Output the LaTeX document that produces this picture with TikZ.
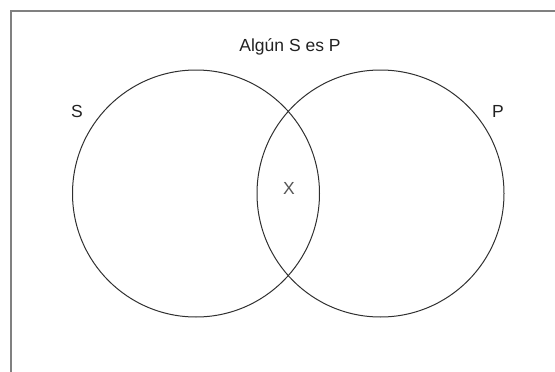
\documentclass[tikz,border=0pt]{standalone}
\usepackage{fontspec}
\setmainfont{Liberation Sans}
\definecolor{frame}{HTML}{808080}
\definecolor{ink}{HTML}{303030}
\definecolor{txt}{HTML}{222222}
\definecolor{xgray}{HTML}{555555}
\begin{document}
\begin{tikzpicture}[x=1pt,y=-1pt,
  setcircle/.style={circle, draw=ink, line width=1pt, minimum size=247pt, inner sep=0pt},
  lbl/.style={text=txt, font=\fontsize{17.5}{20}\selectfont, inner sep=0pt}]
\useasboundingbox (0,0) rectangle (555,372);
\draw[frame, line width=2pt] (10.5,372) -- (10.5,10.5) -- (555,10.5);
\node[setcircle] (S) at (196,193.5) {};
\node[setcircle] (P) at (380.5,193.5) {};
\node[lbl] (title) at (290,47) {Algún S es P};
\node[lbl] (ls) at (77,111) {S};
\node[lbl] (lp) at (498,111) {P};
\node[lbl, text=xgray] (x) at (289,188) {X};
\end{tikzpicture}
\end{document}
